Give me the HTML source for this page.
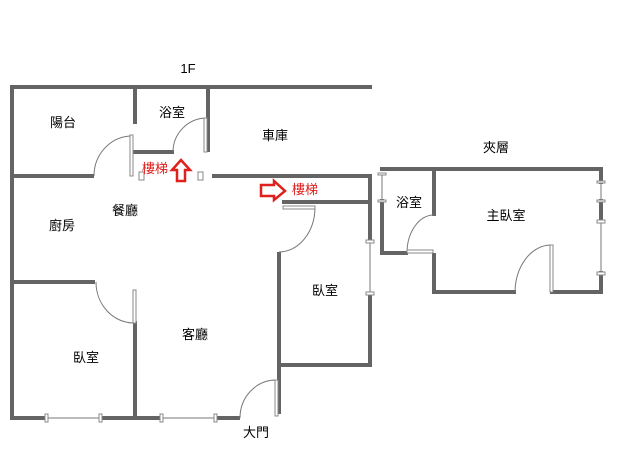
<!DOCTYPE html>
<html><head><meta charset="utf-8"><style>
html,body{margin:0;padding:0;background:#fff;width:638px;height:460px;overflow:hidden}
text{font-family:"Liberation Sans","Noto Sans CJK TC",sans-serif;font-size:13px;fill:#000}
.r{fill:#e0201c}
</style></head><body>
<svg width="638" height="460" viewBox="0 0 638 460" xmlns="http://www.w3.org/2000/svg">
<g stroke="#646464" stroke-width="4" fill="none" stroke-linecap="square">
<!-- left building -->
<line x1="12" y1="87" x2="370" y2="87"/>
<line x1="12" y1="87" x2="12" y2="418"/>
<line x1="12" y1="418" x2="46" y2="418"/>
<line x1="102" y1="418" x2="161" y2="418"/>
<line x1="217" y1="418" x2="238" y2="418"/>
<line x1="12" y1="176" x2="92" y2="176"/>
<line x1="135" y1="87" x2="135" y2="122"/>
<line x1="135" y1="152" x2="172" y2="152"/>
<line x1="208" y1="87" x2="208" y2="150"/>
<line x1="214" y1="176" x2="370" y2="176"/>
<line x1="370" y1="176" x2="370" y2="240"/>
<line x1="370" y1="295" x2="370" y2="365"/>
<line x1="284" y1="202" x2="370" y2="202"/>
<line x1="279" y1="254" x2="279" y2="412"/>
<line x1="279" y1="365" x2="370" y2="365"/>
<line x1="12" y1="282" x2="93" y2="282"/>
<line x1="135" y1="323" x2="135" y2="418"/>
<!-- mezzanine -->
<line x1="382" y1="169" x2="601" y2="169"/>
<line x1="382" y1="201" x2="382" y2="253"/>
<line x1="382" y1="253" x2="406" y2="253"/>
<line x1="434" y1="169" x2="434" y2="214"/>
<line x1="434" y1="255" x2="434" y2="292"/>
<line x1="434" y1="292" x2="514" y2="292"/>
<line x1="552" y1="292" x2="601" y2="292"/>
<line x1="601" y1="169" x2="601" y2="182"/>
<line x1="601" y1="201" x2="601" y2="220"/>
<line x1="601" y1="273" x2="601" y2="292"/>
</g>
<g stroke="#777" stroke-width="1" fill="none">
<!-- windows -->
<line x1="48" y1="418" x2="100" y2="418"/>
<line x1="163" y1="418" x2="215" y2="418"/>
<line x1="370" y1="242" x2="370" y2="293"/>
<line x1="382" y1="174" x2="382" y2="201"/>
<line x1="601" y1="182" x2="601" y2="201"/>
<line x1="601" y1="221" x2="601" y2="273"/>
<!-- arcs -->
<path d="M94 176 A38 40 0 0 1 131 136"/>
<path d="M173 152 A34 34 0 0 1 206 118"/>
<path d="M315 207 A36 45 0 0 1 279 252"/>
<path d="M96 282 A38 41 0 0 0 134 323"/>
<path d="M240 418 A36 38 0 0 1 276 380"/>
<path d="M407 253 A27 38 0 0 1 434 215"/>
<path d="M515 292 A36 48 0 0 1 551 245"/>
</g>
<g stroke="#888" stroke-width="1" fill="#fff">
<rect x="130" y="135" width="3" height="41"/>
<rect x="204" y="118" width="3" height="34"/>
<rect x="283" y="206" width="32" height="3"/>
<rect x="133" y="290" width="3" height="33"/>
<rect x="275" y="380" width="3" height="36"/>
<rect x="407" y="250" width="26" height="3"/>
<rect x="550" y="245" width="3" height="47"/>
<rect x="198" y="172" width="5" height="8"/>
<rect x="139" y="172" width="5" height="8"/>
<rect x="45" y="414" width="3" height="8"/><rect x="99" y="414" width="3" height="8"/>
<rect x="160" y="414" width="3" height="8"/><rect x="214" y="414" width="3" height="8"/>
<rect x="366" y="240" width="8" height="3"/><rect x="366" y="292" width="8" height="3"/>
<rect x="378" y="173" width="8" height="2"/><rect x="378" y="200" width="8" height="2"/>
<rect x="597" y="181" width="8" height="2"/><rect x="597" y="200" width="8" height="2"/>
<rect x="597" y="220" width="8" height="3"/><rect x="597" y="272" width="8" height="3"/>
</g>
<!-- arrows -->
<path d="M181 160 L190 170 L185 170 L185 181 L177 181 L177 170 L172 170 Z" fill="#fff" stroke="#e0201c" stroke-width="2.5"/>
<path d="M261 185 L274 185 L274 181 L285 191 L274 200 L274 196 L261 196 Z" fill="#fff" stroke="#e0201c" stroke-width="2.5"/>
<text x="188" y="73" text-anchor="middle" font-size="14">1F</text>
<text x="63" y="127" text-anchor="middle">陽台</text>
<text x="172" y="117" text-anchor="middle">浴室</text>
<text x="275" y="140" text-anchor="middle">車庫</text>
<text x="125" y="215" text-anchor="middle">餐廳</text>
<text x="62" y="230" text-anchor="middle">廚房</text>
<text x="86" y="362" text-anchor="middle">臥室</text>
<text x="195" y="339" text-anchor="middle">客廳</text>
<text x="325" y="295" text-anchor="middle">臥室</text>
<text x="256" y="437" text-anchor="middle">大門</text>
<text x="496" y="152" text-anchor="middle">夾層</text>
<text x="409" y="207" text-anchor="middle">浴室</text>
<text x="506" y="220" text-anchor="middle">主臥室</text>
<text x="155" y="173" text-anchor="middle" class="r">樓梯</text>
<text x="305" y="194" text-anchor="middle" class="r">樓梯</text>
</svg>
</body></html>
